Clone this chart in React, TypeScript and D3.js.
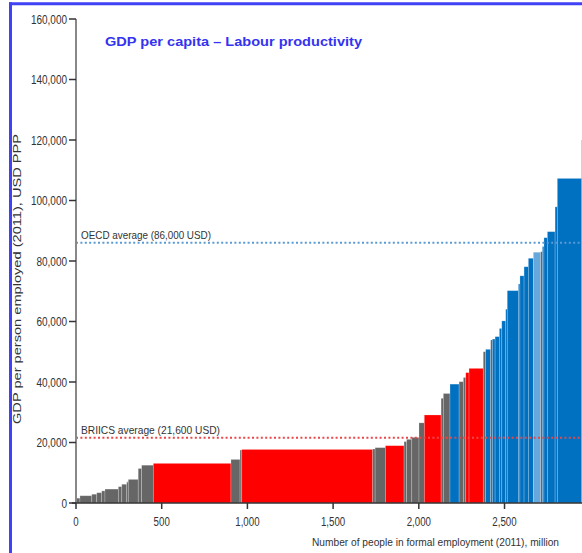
import React from "react";
import * as d3 from "d3";

// Employment (million) per economy, sorted by productivity
const widths = [23, 69, 29, 29, 19, 78, 20, 29, 9, 58, 20, 68, 453, 53, 10, 764, 14, 60, 109, 15, 30, 42, 31, 98, 13, 39, 53, 25, 14, 19, 83, 14, 29, 10, 16, 25, 14, 23, 9, 65, 9, 24, 25, 29, 43, 10, 9, 20, 45, 13, 142, 11];
// GDP per person employed (2011), USD PPP
const values = [1600, 2400, 2900, 3400, 4000, 4600, 5400, 6200, 7000, 7800, 11400, 12500, 13100, 14400, 17500, 17700, 17850, 18300, 18950, 20300, 21050, 21700, 26500, 29100, 34600, 36200, 39300, 40100, 41500, 43100, 44500, 50000, 50800, 53900, 54200, 55000, 57700, 60200, 64100, 70200, 72400, 75100, 78100, 80900, 82900, 83100, 84800, 87700, 89700, 97900, 107300, 120000];
// o = other, b = BRIICS, e = OECD, l = OECD highlighted
const groups = ["o", "o", "o", "o", "o", "o", "o", "o", "o", "o", "o", "o", "b", "o", "o", "b", "o", "o", "b", "o", "o", "o", "o", "b", "o", "o", "e", "o", "o", "b", "b", "o", "e", "o", "e", "e", "e", "e", "e", "e", "e", "e", "e", "e", "l", "o", "e", "e", "e", "e", "e", "e"];

const yTicks = [0, 20000, 40000, 60000, 80000, 100000, 120000, 140000, 160000];
const xTicks = [0, 500, 1000, 1500, 2000, 2500];
const refValues = [86000, 21600];
const refLabels = ["OECD average (86,000 USD)", "BRIICS average (21,600 USD)"];
const refColors = ["#5b9bd5", "#e8474a"];
const refLabelLengths = [130, 139];

const title = "GDP per capita \u2013 Labour productivity";
const xTitle = "Number of people in formal employment (2011), million";
const yTitle = "GDP per person employed (2011), USD PPP";

const colorMap: Record<string, string> = {
  o: "#666666",
  b: "#ff0000",
  e: "#0070c0",
  l: "#66a8dc",
};

export default function App() {
  const W = 582;
  const H = 553;
  const x = d3.scaleLinear().domain([0, 2952]).range([76, 582]);
  const y = d3.scaleLinear().domain([0, 160000]).range([503, 19]);
  const ends = Array.from(d3.cumsum(widths));
  const starts = ends.map((e, i) => e - widths[i]);
  const fmt = d3.format(",");
  const font = "'Liberation Sans', Arial, sans-serif";

  return (
    <svg
      width={W}
      height={H}
      style={{ position: "absolute", left: 0, top: 0, background: "#fff" }}
      fontFamily={font}
    >
      {/* bars */}
      <g>
        {values.map((v, i) => (
          <rect
            key={i}
            x={x(starts[i])}
            y={y(v)}
            width={Math.max(0, x(ends[i]) - x(starts[i]))}
            height={y(0) - y(v)}
            fill={colorMap[groups[i]]}
            stroke="rgba(255,255,255,0.3)"
            strokeWidth={0.7}
          />
        ))}
      </g>

      {/* reference lines */}
      {refValues.map((v, i) => (
        <g key={i}>
          <line
            x1={x(0)}
            x2={W}
            y1={y(v)}
            y2={y(v)}
            stroke={refColors[i]}
            strokeWidth={2}
            strokeDasharray="2,2.4"
          />
          <text
            x={81}
            y={y(v) - 4}
            fontSize={11}
            fill="#333"
            textLength={refLabelLengths[i]}
            lengthAdjust="spacingAndGlyphs"
          >
            {refLabels[i]}
          </text>
        </g>
      ))}

      {/* y axis */}
      <line x1={76} x2={76} y1={y(160000)} y2={y(0)} stroke="#888" strokeWidth={2} />
      {yTicks.map((t) => (
        <g key={t} transform={`translate(0,${y(t)})`}>
          <line x1={69} x2={76} y1={0} y2={0} stroke="#333" strokeWidth={1.5} />
          <text
            transform={`translate(67,4.5) scale(0.8,1)`}
            textAnchor="end"
            fontSize={12.5}
            fill="#333"
          >
            {fmt(t)}
          </text>
        </g>
      ))}

      {/* x axis */}
      <line x1={72} x2={W} y1={y(0)} y2={y(0)} stroke="#333" strokeWidth={1.5} />
      {xTicks.map((t) => (
        <g key={t} transform={`translate(${x(t)},0)`}>
          <line x1={0} x2={0} y1={y(0)} y2={y(0) + 6} stroke="#333" strokeWidth={1.5} />
          <text
            transform={`translate(0,526) scale(0.72,1)`}
            textAnchor="middle"
            fontSize={13.5}
            fill="#333"
          >
            {fmt(t)}
          </text>
        </g>
      ))}

      {/* axis titles */}
      <text
        x={312}
        y={545.5}
        fontSize={11}
        fill="#333"
        textLength={247}
        lengthAdjust="spacingAndGlyphs"
      >
        {xTitle}
      </text>
      <text
        transform={`translate(20.5,424) rotate(-90)`}
        fontSize={10.5}
        fill="#333"
        textLength={290}
        lengthAdjust="spacingAndGlyphs"
      >
        {yTitle}
      </text>

      {/* title */}
      <text
        x={105}
        y={45.5}
        fontSize={13.5}
        fontWeight="bold"
        fill="#3333f0"
        textLength={257}
        lengthAdjust="spacingAndGlyphs"
      >
        {title}
      </text>

      {/* frame */}
      <line x1={9} x2={W} y1={3.8} y2={3.8} stroke="#4141f5" strokeWidth={3} />
      <line x1={10.5} x2={10.5} y1={2.3} y2={H} stroke="#4141f5" strokeWidth={3} />
    </svg>
  );
}
